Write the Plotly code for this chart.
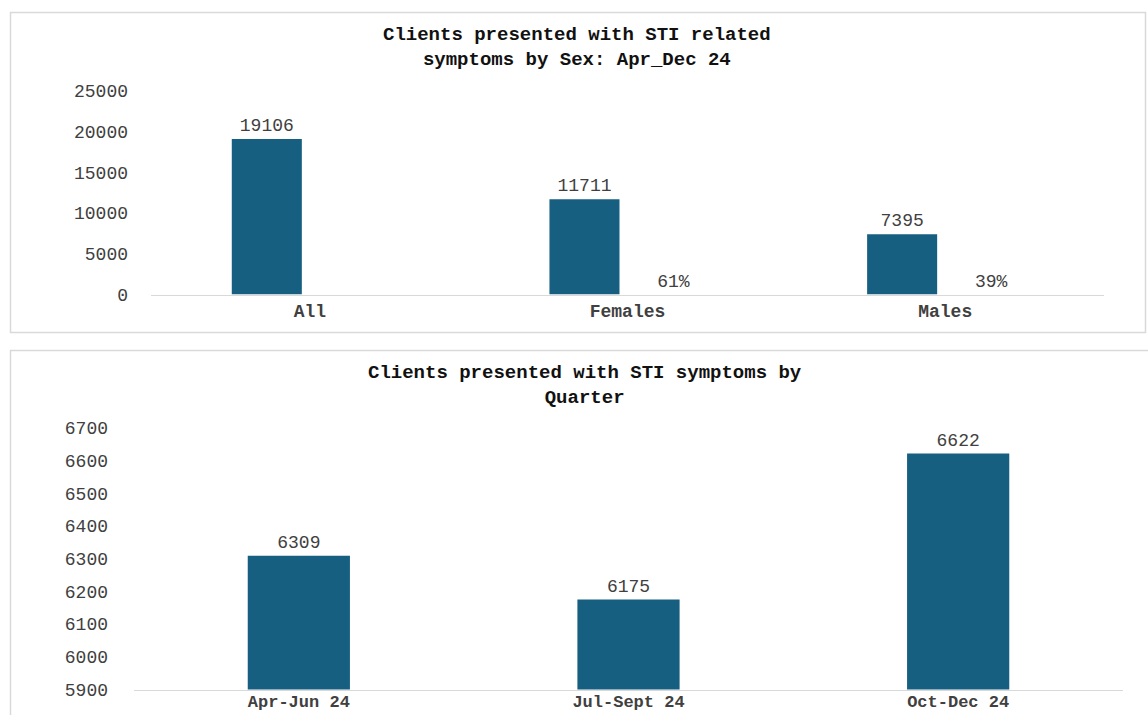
import plotly.graph_objects as go

# ---------------- data ----------------
sex_categories = ["All", "Females", "Males"]
sex_counts = [19106, 11711, 7395]
sex_share = [None, 0.61, 0.39]
sex_ticks = [0, 5000, 10000, 15000, 20000, 25000]

quarter_categories = ["Apr-Jun 24", "Jul-Sept 24", "Oct-Dec 24"]
quarter_counts = [6309, 6175, 6622]
quarter_ticks = [5900, 6000, 6100, 6200, 6300, 6400, 6500, 6600, 6700]

title_top = "Clients presented with STI related<br>symptoms by Sex: Apr_Dec 24"
title_bottom = "Clients presented with STI symptoms by<br>Quarter"

# ---------------- style ----------------
W, H = 1148, 715
BAR = "#175F80"
TXT = "#404040"
AXL = "#D9D9D9"
FONT = "Liberation Mono, Courier New, monospace"


def px(x):
    return x / W


def py(y):
    return 1 - y / H


fig = go.Figure()

fig.add_trace(go.Bar(
    x=sex_categories, y=sex_counts, xaxis="x", yaxis="y",
    marker=dict(color=BAR, line=dict(width=0)),
    width=0.2205, offset=-0.2457,
    texttemplate="%{y:d}", textposition="outside",
    textfont=dict(family=FONT, size=18, color=TXT),
    cliponaxis=False, showlegend=False,
))
fig.add_trace(go.Bar(
    x=sex_categories, y=sex_share, xaxis="x", yaxis="y",
    marker=dict(color="rgba(0,0,0,0)", line=dict(width=0)),
    width=0.2205, offset=0.0346,
    texttemplate="%{y:.0%}", textposition="outside",
    textfont=dict(family=FONT, size=18, color=TXT),
    cliponaxis=False, showlegend=False,
))
fig.add_trace(go.Bar(
    x=quarter_categories, y=quarter_counts, xaxis="x2", yaxis="y2",
    marker=dict(color=BAR, line=dict(width=0)),
    width=0.31,
    texttemplate="%{y:d}", textposition="outside",
    textfont=dict(family=FONT, size=18, color=TXT),
    cliponaxis=True, showlegend=False,
))

tickfont = dict(family=FONT, size=18, color=TXT)
catfont = dict(family=FONT, size=18, color=TXT, weight="bold")
catfont2 = dict(family=FONT, size=17, color=TXT, weight="bold")

fig.update_layout(
    width=W, height=H,
    margin=dict(l=0, r=0, t=0, b=0, autoexpand=False),
    paper_bgcolor="white", plot_bgcolor="white",
    barmode="group",
    xaxis=dict(domain=[px(151), px(1104)], anchor="y", automargin=False,
               showline=True, linecolor=AXL, linewidth=1,
               showgrid=False, ticks="", tickfont=catfont,
               ticklabelstandoff=0, fixedrange=True),
    yaxis=dict(domain=[py(294.5), py(91)], anchor="x", automargin=False,
               range=[0, 25000], tickvals=sex_ticks, tickformat="d",
               showgrid=False, zeroline=False, showline=False,
               ticks="", tickfont=tickfont, ticklabelstandoff=22),
    xaxis2=dict(domain=[px(134), px(1123)], anchor="y2", automargin=False,
                showline=True, linecolor=AXL, linewidth=1,
                showgrid=False, ticks="", tickfont=catfont2,
                ticklabelstandoff=-4),
    yaxis2=dict(domain=[py(689.5), py(428)], anchor="x2", automargin=False,
                range=[5900, 6700], tickvals=quarter_ticks, tickformat="d",
                showgrid=False, zeroline=False, showline=False,
                ticks="", tickfont=tickfont, ticklabelstandoff=25),
    shapes=[
        dict(type="rect", xref="paper", yref="paper",
             x0=px(10.5), x1=px(1145.5), y0=py(332.5), y1=py(12.5),
             line=dict(color=AXL, width=1.5), fillcolor="rgba(0,0,0,0)", layer="below"),
        dict(type="rect", xref="paper", yref="paper",
             x0=px(10.5), x1=px(1160), y0=py(730), y1=py(350.5),
             line=dict(color=AXL, width=1.5), fillcolor="rgba(0,0,0,0)", layer="below"),
    ],
)

titlefont = dict(family=FONT, size=19, color="#111111", weight="bold")
fig.add_annotation(text=title_top, xref="paper", yref="paper",
                   x=px(577), y=py(47), xanchor="center", yanchor="middle",
                   showarrow=False, font=titlefont)
fig.add_annotation(text=title_bottom, xref="paper", yref="paper",
                   x=px(585), y=py(385), xanchor="center", yanchor="middle",
                   showarrow=False, font=titlefont)

fig.write_html("out.html")
